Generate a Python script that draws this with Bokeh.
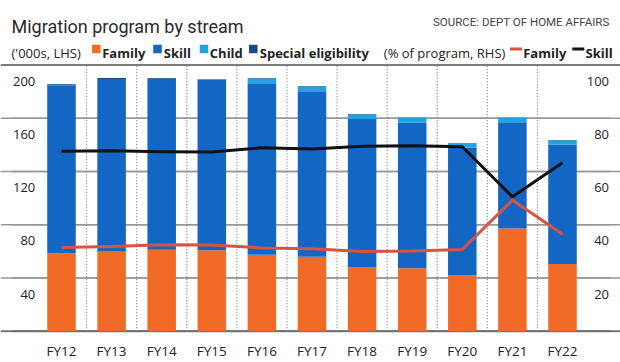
import numpy as np
from bokeh.plotting import figure
from bokeh.models import Range1d, FixedTicker, Label, ColumnDataSource, Span
from bokeh.core.properties import value
from bokeh.embed import file_html
from bokeh.resources import INLINE

# ---------------- data ----------------
years = ["FY12", "FY13", "FY14", "FY15", "FY16", "FY17", "FY18", "FY19", "FY20", "FY21", "FY22"]
family = [58.6, 60.2, 61.2, 60.9, 57.5, 56.0, 47.8, 47.3, 41.8, 77.2, 50.6]
skill = [126.0, 129.3, 128.6, 128.1, 128.9, 124.4, 111.7, 109.5, 96.1, 79.8, 89.8]
child = [0.0, 0.0, 0.0, 0.0, 3.5, 3.4, 3.4, 3.4, 3.3, 3.3, 3.0]
special = [0.9, 0.8, 0.5, 0.4, 0.4, 0.5, 0.3, 0.3, 0.2, 0.2, 0.2]
family_pct = [31.5, 31.8, 32.5, 32.4, 31.3, 31.0, 30.0, 30.1, 30.7, 49.3, 36.4]
skill_pct = [67.6, 67.8, 67.4, 67.3, 68.9, 68.5, 69.5, 69.7, 69.3, 50.5, 63.3]
lhs_ticks = [40, 80, 120, 160, 200]
rhs_ticks = [20, 40, 60, 80, 100]

# ---------------- layout constants ----------------
W, H = 620, 362
BOTTOM = 19
XPX = 50.1
X_START = -61.0 / XPX
X_END = X_START + W / XPX
PX = 1.375
ZERO_PX = 341.7
Y_START = -((H - BOTTOM) - ZERO_PX) / PX
Y_END = Y_START + (H - BOTTOM) / PX


def fx(px):
    return X_START + px / XPX


def fy(py):
    return (ZERO_PX - py) / PX


C_FAMILY = "#f26b26"
C_SKILL = "#1466c4"
C_CHILD = "#22a2e2"
C_SPECIAL = "#174b88"
C_RED = "#d65541"
C_BLACK = "#111111"
C_GRID = "#959799"
C_TOP = "#7a7c7e"
C_BASE = "#6e7072"
C_SEP = "#86888a"
FONT = "Open Sans"

p = figure(width=W, height=H, output_backend="svg", toolbar_location=None,
           x_range=Range1d(X_START, X_END), y_range=Range1d(Y_START, Y_END),
           min_border_left=0, min_border_right=0, min_border_top=0,
           min_border_bottom=BOTTOM, y_axis_location=None,
           outline_line_color=None, background_fill_color="white",
           border_fill_color="white")
p.extra_y_ranges = {"rhs": Range1d(Y_START / 2, Y_END / 2)}
p.xgrid.visible = False
p.ygrid.visible = False

xpos = np.arange(len(years))
# x points for horizontal rules: from the left edge, through every year, to the right edge
gx = np.concatenate([[fx(11)], xpos.astype(float), [fx(610)]])

# horizontal rules, drawn on the RHS range like the data lines
for v, col, lw in zip(list(lhs_ticks) + [0],
                      [C_GRID] * (len(lhs_ticks) - 1) + [C_TOP, C_BASE],
                      [1.5] * (len(lhs_ticks) - 1) + [2, 2]):
    p.add_layout(Span(location=v, dimension="width", line_color=col, line_width=lw,
                      level="underlay"))
    p.line(gx, np.full(len(gx), v / 2.0), y_range_name="rhs", line_color=col,
           line_width=lw, line_join="round")

# dotted separators between years
sep_y = np.array([0.0, lhs_ticks[-1] / 4.0, lhs_ticks[-1] / 2.0])
for s in (xpos[:-1] + 0.5):
    p.line(np.full(len(sep_y), float(s)), sep_y, y_range_name="rhs",
           line_color=C_SEP, line_width=1.3, line_dash="1 2", line_join="round")

# bars
src = ColumnDataSource(dict(x=xpos, family=family, skill=skill, child=child, special=special))
p.vbar_stack(["family", "skill", "child", "special"], x="x", width=0.57, source=src,
             color=[C_FAMILY, C_SKILL, C_CHILD, C_SPECIAL], line_width=0)

# lines (RHS)
p.line(xpos, skill_pct, y_range_name="rhs", line_color=C_BLACK, line_width=3, line_join="round")
p.line(xpos, family_pct, y_range_name="rhs", line_color=C_RED, line_width=3, line_join="round")

# y tick labels inside the plot
p.text(x=[fx(34.8)] * len(lhs_ticks), y=lhs_ticks, text=[str(t) for t in lhs_ticks],
       text_font=value(FONT), text_font_size="13px", text_color="#222222",
       text_align="right", text_baseline="alphabetic", y_offset=16)
p.text(x=[fx(608.5)] * len(rhs_ticks), y=rhs_ticks, text=[str(t) for t in rhs_ticks],
       y_range_name="rhs",
       text_font=value(FONT), text_font_size="13px", text_color="#222222",
       text_align="right", text_baseline="alphabetic", y_offset=16)

# x axis
ax = p.xaxis[0]
ax.ticker = FixedTicker(ticks=list(xpos))
ax.major_label_overrides = {int(i): y for i, y in zip(xpos, years)}
ax.axis_line_color = None
ax.major_tick_line_color = None
ax.minor_tick_line_color = None
ax.major_label_standoff = 3
ax.major_label_text_font = FONT
ax.major_label_text_font_size = "13.5px"
ax.major_label_text_color = "#222222"

# title & source
p.add_layout(Label(x=fx(11), y=fy(26.7), text="Migration program by stream",
                   text_font="Roboto", text_font_size="18px", text_color="#2a2a2a",
                   text_align="left", text_baseline="alphabetic"))
p.add_layout(Label(x=fx(609), y=fy(21.7), text="SOURCE: DEPT OF HOME AFFAIRS",
                   text_font="Roboto", text_font_size="11.5px", text_color="#444444",
                   text_align="right", text_baseline="alphabetic"))

# legend row
LB = fy(54.3)


def leg_text(px, txt, bold=False):
    p.add_layout(Label(x=fx(px), y=LB, text=txt, text_font=FONT, text_font_size="13px",
                       text_font_style="bold" if bold else "normal", text_color="#222222",
                       text_align="left", text_baseline="alphabetic"))


leg_text(11, "('000s, LHS)")
sq_x = [fx(95.8), fx(157.0), fx(203.5), fx(252.8)]
p.scatter(x=sq_x, y=[fy(50.2)] * 4, marker="square", size=8.5,
          color=[C_FAMILY, C_SKILL, C_CHILD, C_SPECIAL], line_width=0)
leg_text(101.7, "Family", True)
leg_text(163.3, "Skill", True)
leg_text(209.3, "Child", True)
leg_text(259.3, "Special eligibility", True)
leg_text(383.3, "(% of program, RHS)")
p.scatter(x=[fx(515.5), fx(577.8)], y=[fy(50.0)] * 2, marker="dash", size=12,
          line_color=[C_RED, C_BLACK], line_width=3, line_cap="butt")
leg_text(522.7, "Family", True)
leg_text(585.0, "Skill", True)

open("out.html", "w").write(file_html(p, INLINE))
